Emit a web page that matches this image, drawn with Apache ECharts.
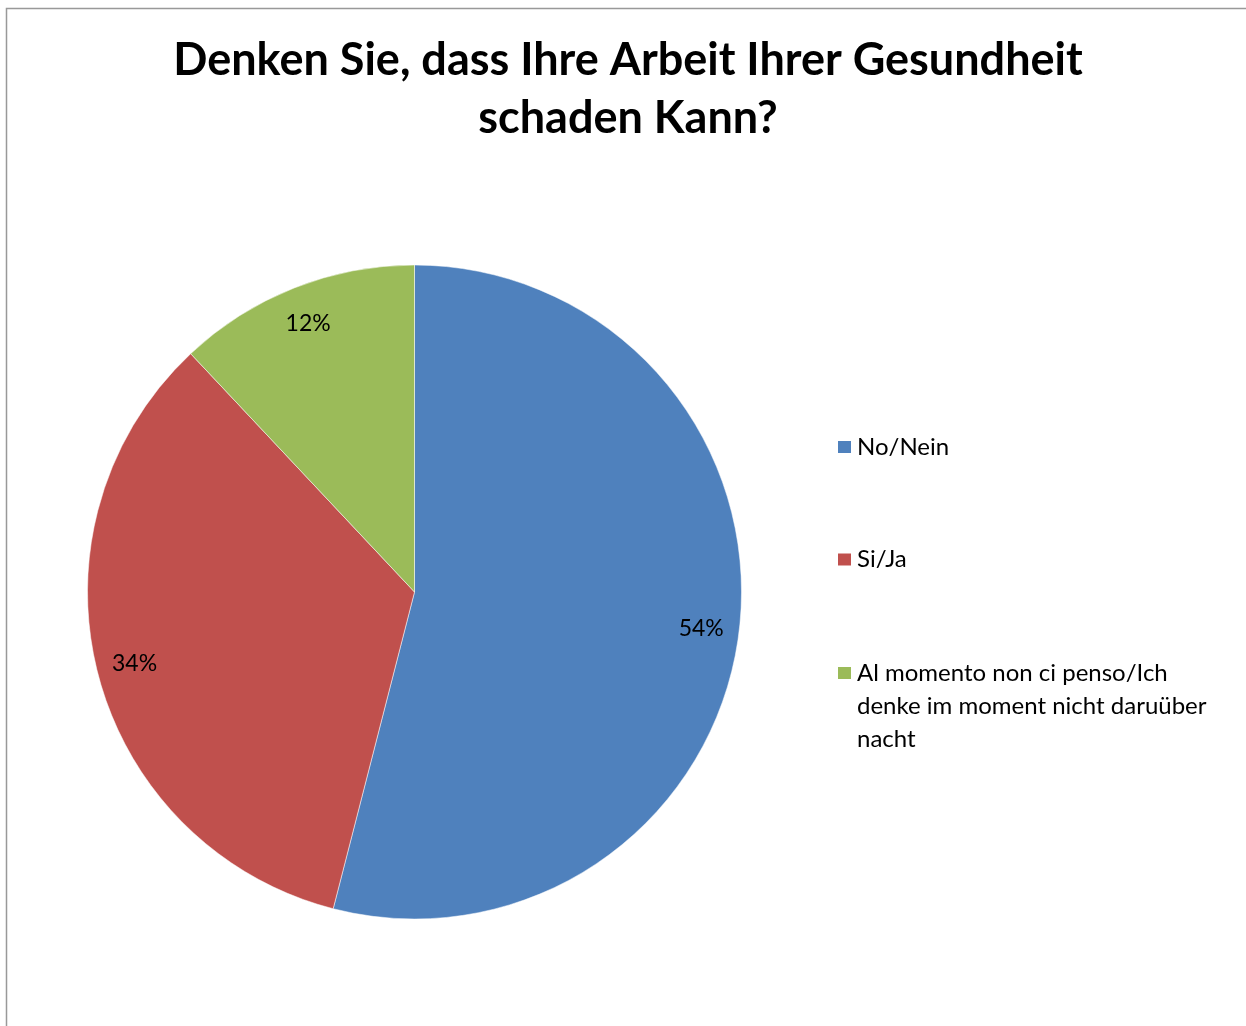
<!DOCTYPE html>
<html>
<head>
<meta charset="utf-8">
<title>Denken Sie, dass Ihre Arbeit Ihrer Gesundheit schaden Kann?</title>
<script src="https://cdn.jsdelivr.net/npm/echarts@6/dist/echarts.min.js"></script>
<style>
  html, body { margin: 0; padding: 0; background: #fff; }
  #chart { width: 1246px; height: 1026px; }
</style>
</head>
<body>
<div id="chart"></div>
<script>
// Daten
var categories = ['No/Nein', 'Si/Ja', 'Al momento non ci penso/Ich denke im moment nicht daruüber nacht'];
var values = [54, 34, 12];
var colors = ['#4F81BD', '#C0504D', '#9BBB59'];
var legendLines = [
  ['No/Nein'],
  ['Si/Ja'],
  ['Al momento non ci penso/Ich', 'denke im moment nicht daruüber', 'nacht']
];

var font = 'Lato';
var el = document.getElementById('chart');
var myChart = echarts.init(el);

var pieData = categories.map(function (name, i) {
  return { name: name, value: values[i], itemStyle: { color: colors[i] } };
});

// je Eintrag eine Legende, damit der mehrzeilige Text oben am Symbol steht
var iconCenters = [447, 559.5, 673];
var lh = 33;
var legends = categories.map(function (name, i) {
  var lines = legendLines[i];
  var pad = lines.length - 1;
  var text = [];
  for (var k = 0; k < pad; k++) text.push('');
  text = text.concat(lines);
  var boxH = text.length * lh;
  return {
    orient: 'vertical',
    left: 836,
    top: iconCenters[i] - boxH / 2,
    padding: 0,
    itemWidth: 15,
    itemHeight: 14,
    itemGap: 0,
    icon: 'rect',
    selectedMode: false,
    data: [{ name: name, itemStyle: { color: colors[i] } }],
    formatter: function () { return text.join('\n'); },
    textStyle: { fontFamily: font, fontSize: 24, color: '#000', lineHeight: lh }
  };
});

var option = {
  backgroundColor: '#fff',
  animation: false,
  title: {
    text: 'Denken Sie, dass Ihre Arbeit Ihrer Gesundheit\nschaden Kann?',
    left: 628,
    textAlign: 'center',
    top: 31,
    padding: 0,
    textStyle: { fontFamily: font, fontSize: 45, fontWeight: 'bold', color: '#000', lineHeight: 58 }
  },
  legend: legends,
  graphic: [{
    type: 'rect',
    shape: { x: 6.5, y: 8.5, width: 1400, height: 1200 },
    style: { fill: 'none', stroke: '#999', lineWidth: 1.5 },
    silent: true
  }],
  series: [
    {
      type: 'pie',
      center: [414.5, 592],
      radius: [0, 327],
      startAngle: 90,
      clockwise: true,
      label: { show: false },
      labelLine: { show: false },
      itemStyle: { borderColor: '#fff', borderWidth: 0.5 },
      emphasis: { disabled: true },
      data: pieData
    },
    {
      // unsichtbarer Ring nur für die Prozent-Beschriftung
      type: 'pie',
      center: [414.5, 592],
      radius: [248, 324],
      startAngle: 90,
      clockwise: true,
      silent: true,
      itemStyle: { color: 'rgba(0,0,0,0)' },
      label: {
        show: true,
        position: 'inside',
        formatter: '{c}%',
        fontFamily: font,
        fontSize: 23,
        color: '#000'
      },
      labelLine: { show: false },
      emphasis: { disabled: true },
      data: categories.map(function (name, i) {
        return { name: name + ' ', value: values[i] };
      })
    }
  ]
};

myChart.setOption(option);
</script>
</body>
</html>
